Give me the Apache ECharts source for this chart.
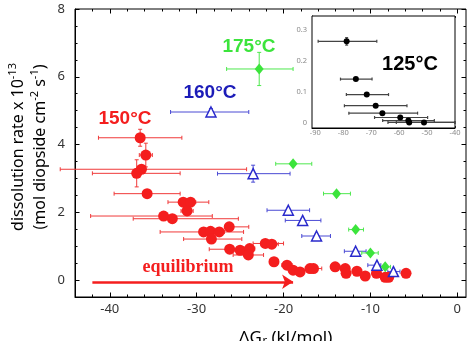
<!DOCTYPE html>
<html><head><meta charset="utf-8">
<script src="https://cdn.jsdelivr.net/npm/echarts@6/dist/echarts.min.js"></script>
<style>html,body{margin:0;padding:0;background:#fff}#c{width:472px;height:341px}</style>
</head><body><div id="c"></div>
<script>
// ---------- DATA ----------
// 150 °C (red circles): dG, rate, dG error low/high, rate half-error
const t150_dG    = [-36.5,-35.85,-36.35,-36.9,-35.7,-31.55,-30.7,-31.1,-33.8,-32.8,-29.2,-28.4,-27.4,-26.25,-28.3,-26.2,-25.0,-23.9,-24.05,-22.1,-21.35,-21.1,-19.6,-18.9,-18.1,-16.95,-16.55,-14.06,-12.9,-12.8,-11.55,-10.6,-9.3,-8.3,-7.9,-5.9];
const t150_rate  = [4.20,3.69,3.27,3.15,2.55,2.30,2.30,2.04,1.89,1.81,1.42,1.44,1.42,1.57,1.21,0.91,0.88,0.93,0.74,1.08,1.06,0.54,0.44,0.29,0.24,0.34,0.34,0.39,0.34,0.20,0.26,0.12,0.20,0.08,0.08,0.20];
const t150_dGlo  = [-41.3,-36.6,-45.7,-42.0,-39.5,-33.3,-31.3,-31.8,-42.2,-37.3,-34.2,-29.0,-28.0,-26.5,-31.5,-28.55,-25.6,-24.5,-25.8,-23.5,-22.0,-21.6,-20.2,-19.4,-18.6,-17.5,-17.1,-14.6,-13.4,-13.3,-12.1,-11.1,-9.8,-8.8,-8.4,-6.4];
const t150_dGhi  = [-31.7,-35.1,-24.25,-31.9,-31.9,-28.6,-30.1,-30.4,-28.2,-25.2,-24.6,-27.8,-26.8,-24.0,-24.8,-23.4,-24.4,-23.3,-22.3,-20.0,-20.6,-20.6,-19.0,-18.4,-17.6,-16.4,-15.6,-13.5,-12.4,-12.3,-11.0,-10.1,-8.8,-7.8,-7.4,-5.4];
const t150_rateErr=[0.25,0.35,0,0.40,0,0,0,0,0,0,0,0,0,0,0,0,0,0,0,0,0,0,0,0,0,0,0,0,0,0,0,0,0,0,0,0];
// 160 °C (blue open triangles)
const t160_dG    = [-28.35,-23.5,-19.45,-17.8,-16.2,-11.7,-9.25,-7.35];
const t160_rate  = [4.96,3.14,2.06,1.76,1.30,0.85,0.44,0.25];
const t160_dGlo  = [-33.0,-27.6,-21.9,-19.8,-17.9,-13.0,-10.3,-8.0];
const t160_dGhi  = [-24.0,-19.25,-17.0,-15.7,-14.6,-10.5,-8.8,-6.6];
const t160_rateErr=[0.10,0.25,0.06,0.05,0.05,0.05,0.05,0.05];
// 175 °C (green diamonds)
const t175_dG    = [-22.8,-18.9,-13.9,-11.7,-10.0,-8.3];
const t175_rate  = [6.23,3.43,2.55,1.49,0.80,0.39];
const t175_dGlo  = [-26.55,-20.9,-15.4,-12.5,-11.0,-9.0];
const t175_dGhi  = [-18.9,-16.75,-12.3,-10.8,-9.1,-7.7];
const t175_rateErr=[0.49,0,0,0,0,0];
// 125 °C (inset, black)
const t125_dG    = [-78.8,-75.5,-71.6,-68.4,-66.0,-59.6,-56.7,-56.4,-51.1];
const t125_rate  = [0.264,0.142,0.092,0.056,0.032,0.018,0.008,0.002,0.002];
const t125_dGlo  = [-89.0,-81.0,-78.9,-79.6,-78.0,-68.8,-65.9,-64.0,-61.0];
const t125_dGhi  = [-68.0,-69.7,-63.8,-57.2,-53.4,-49.8,-47.4,-40.0,-40.0];
const t125_rateErr=[0.012,0,0,0,0,0,0,0,0];
// equilibrium arrow (start, end)
const equilibriumArrow = [[-42.0,-0.05],[-18.9,-0.05]];
// tick labels
const xTickLabels = [-40,-30,-20,-10,0];
const yTickLabels = [0,2,4,6,8];
const insetXTickLabels = [-90,-80,-70,-60,-50,-40];
const insetYTickLabels = [0,0.1,0.2,0.3];

// ---------- HELPERS ----------
function steps(a,b,s){const o=[];for(let v=a;v<=b+1e-9;v+=s)o.push(+v.toFixed(4));return o;}
function rows(x,y,lo,hi,ye){return x.map((v,i)=>[v,y[i],lo[i],hi[i],ye[i]]);}
function errRender(color,cap,lw){
  return function(params,api){
    const x=api.value(0),y=api.value(1),xl=api.value(2),xh=api.value(3),ye=api.value(4);
    const p=api.coord([x,y]);const st={stroke:color,lineWidth:lw};const ch=[];
    if(xh>xl){const a=api.coord([xl,y]),b=api.coord([xh,y]);
      ch.push({type:'line',shape:{x1:a[0],y1:p[1],x2:b[0],y2:p[1]},style:st});
      ch.push({type:'line',shape:{x1:a[0],y1:p[1]-cap,x2:a[0],y2:p[1]+cap},style:st});
      ch.push({type:'line',shape:{x1:b[0],y1:p[1]-cap,x2:b[0],y2:p[1]+cap},style:st});}
    if(ye>0){const t=api.coord([x,y+ye]),d=api.coord([x,y-ye]);
      ch.push({type:'line',shape:{x1:p[0],y1:t[1],x2:p[0],y2:d[1]},style:st});
      ch.push({type:'line',shape:{x1:p[0]-cap,y1:t[1],x2:p[0]+cap,y2:t[1]},style:st});
      ch.push({type:'line',shape:{x1:p[0]-cap,y1:d[1],x2:p[0]+cap,y2:d[1]},style:st});}
    return {type:'group',children:ch};
  };
}
const RED='#f41e1e', BLUE='#2a2acc', GREEN='#3ce43c';
const FONT='"Noto Sans", "DejaVu Sans", sans-serif';
const xMinor=steps(-44,0,2), yMinor=steps(-0.5,8,0.5);
const ixMinor=steps(-91,-40,1), iyMinor=steps(-0.01,0.34,0.01);
const lblMain={fontFamily:FONT,fontSize:13,color:'#333'};
function tick(len,vals,color){return {show:true,inside:true,length:len,customValues:vals,lineStyle:{color:color||'#000',width:1}};}
function xa(grid,pos,min,max,t,lbl,line){return {type:'value',gridIndex:grid,position:pos,min:min,max:max,
  axisLine:{show:!!line,onZero:false,lineStyle:{color:'#000'}},axisTick:t,splitLine:{show:false},
  axisLabel:lbl||{show:false}};}

const option={
  animation:false,
  grid:[{left:75,right:6,top:9,bottom:44,show:true,borderColor:'#000',borderWidth:1,z:0},
        {left:312,top:16,width:143,height:112,show:true,borderColor:'#000',borderWidth:1,backgroundColor:'#fff',z:1}],
  xAxis:[
    xa(0,'bottom',-44,1,tick(4.5,xTickLabels),Object.assign({customValues:xTickLabels,margin:6},lblMain),true),
    xa(0,'bottom',-44,1,tick(2.5,xMinor)),
    xa(0,'top',-44,1,tick(4.5,xTickLabels)),
    xa(0,'top',-44,1,tick(2.5,xMinor)),
    xa(1,'bottom',-91.2,-40,tick(2,ixMinor,'#333'),{customValues:insetXTickLabels,margin:1,fontFamily:FONT,fontSize:7.5,color:'#8a8a8a'},true),
    xa(1,'top',-91.2,-40,tick(2,ixMinor,'#333'))
  ],
  yAxis:[
    xa(0,'left',-0.5,8,tick(4.5,yTickLabels),Object.assign({customValues:yTickLabels,margin:10},lblMain),true),
    xa(0,'left',-0.5,8,tick(2.5,yMinor)),
    xa(0,'right',-0.5,8,tick(4.5,yTickLabels)),
    xa(0,'right',-0.5,8,tick(2.5,yMinor)),
    xa(1,'left',-0.016,0.346,tick(2,iyMinor,'#333'),{customValues:insetYTickLabels,margin:5,fontFamily:FONT,fontSize:7.5,color:'#8a8a8a'},true),
    xa(1,'right',-0.016,0.346,tick(2,iyMinor,'#333'))
  ],
  series:[
    {type:'custom',xAxisIndex:0,yAxisIndex:0,renderItem:errRender('#f03a3a',2,1),data:rows(t150_dG,t150_rate,t150_dGlo,t150_dGhi,t150_rateErr),encode:{x:0,y:1},z:2},
    {type:'custom',xAxisIndex:0,yAxisIndex:0,renderItem:errRender('#4a4ad4',2,1),data:rows(t160_dG,t160_rate,t160_dGlo,t160_dGhi,t160_rateErr),encode:{x:0,y:1},z:2},
    {type:'custom',xAxisIndex:0,yAxisIndex:0,renderItem:errRender('#4ee84e',2,1),data:rows(t175_dG,t175_rate,t175_dGlo,t175_dGhi,t175_rateErr),encode:{x:0,y:1},z:2},
    {type:'lines',coordinateSystem:'cartesian2d',xAxisIndex:0,yAxisIndex:0,symbol:['none','arrow'],symbolSize:[0,11],
      lineStyle:{color:RED,width:2.5,opacity:1},data:[{coords:equilibriumArrow}],z:3},
    {type:'scatter',xAxisIndex:0,yAxisIndex:0,symbol:'circle',symbolSize:11,itemStyle:{color:RED,opacity:1},data:t150_dG.map((v,i)=>[v,t150_rate[i]]),z:4},
    {type:'scatter',xAxisIndex:0,yAxisIndex:0,symbol:'triangle',symbolSize:10,itemStyle:{color:'#fff',borderColor:BLUE,borderWidth:1.5,opacity:1},data:t160_dG.map((v,i)=>[v,t160_rate[i]]),z:5},
    {type:'scatter',xAxisIndex:0,yAxisIndex:0,symbol:'diamond',symbolSize:[9,11],itemStyle:{color:GREEN,opacity:1},data:t175_dG.map((v,i)=>[v,t175_rate[i]]),z:5},
    {type:'custom',xAxisIndex:4,yAxisIndex:4,renderItem:errRender('#444',1.5,1.2),data:rows(t125_dG,t125_rate,t125_dGlo,t125_dGhi,t125_rateErr),encode:{x:0,y:1},z:6},
    {type:'scatter',xAxisIndex:4,yAxisIndex:4,symbol:'circle',symbolSize:6,itemStyle:{color:'#000',opacity:1},data:t125_dG.map((v,i)=>[v,t125_rate[i]]),z:7}
  ],
  graphic:[
    {type:'text',x:125,y:119,z:10,style:{text:'150°C',fill:RED,fontFamily:'"Liberation Sans", Arial, sans-serif',fontWeight:'bold',fontSize:19,align:'center',verticalAlign:'middle'}},
    {type:'text',x:210,y:93,z:10,style:{text:'160°C',fill:'#1c1cb8',fontFamily:'"Liberation Sans", Arial, sans-serif',fontWeight:'bold',fontSize:19,align:'center',verticalAlign:'middle'}},
    {type:'text',x:249,y:47,z:10,style:{text:'175°C',fill:GREEN,fontFamily:'"Liberation Sans", Arial, sans-serif',fontWeight:'bold',fontSize:19,align:'center',verticalAlign:'middle'}},
    {type:'text',x:410,y:64,z:10,style:{text:'125°C',fill:'#000',fontFamily:'"Liberation Sans", Arial, sans-serif',fontWeight:'bold',fontSize:20,align:'center',verticalAlign:'middle'}},
    {type:'text',x:188,y:267,z:10,style:{text:'equilibrium',fill:RED,fontFamily:'"Liberation Serif", "DejaVu Serif", serif',fontWeight:'bold',fontSize:18,align:'center',verticalAlign:'middle'}},
    {type:'text',x:18,y:147,rotation:Math.PI/2,z:10,style:{text:'{b|dissolution rate x 10}{s|-13}',align:'center',verticalAlign:'middle',
      rich:{b:{fontFamily:FONT,fontSize:16,lineHeight:22,fill:'#000',color:'#000'},s:{fontFamily:FONT,fontSize:11,lineHeight:10,verticalAlign:'top',fill:'#000',color:'#000'}}}},
    {type:'text',x:40,y:147,rotation:Math.PI/2,z:10,style:{text:'{b|(mol diopside cm}{s|-2}{b| s}{s|-1}{b|)}',align:'center',verticalAlign:'middle',
      rich:{b:{fontFamily:FONT,fontSize:16,lineHeight:22,fill:'#000',color:'#000'},s:{fontFamily:FONT,fontSize:11,lineHeight:10,verticalAlign:'top',fill:'#000',color:'#000'}}}},
    {type:'text',x:262,y:338,z:10,style:{text:'ΔG',fill:'#000',fontFamily:FONT,fontSize:17,align:'right',verticalAlign:'middle'}},
    {type:'text',x:262.5,y:341,z:10,style:{text:'r',fill:'#000',fontFamily:FONT,fontSize:11,align:'left',verticalAlign:'middle'}},
    {type:'text',x:267,y:338,z:10,style:{text:' (kJ/mol)',fill:'#000',fontFamily:FONT,fontSize:17,align:'left',verticalAlign:'middle'}}
  ]
};
const chart=echarts.init(document.getElementById('c'),null,{width:472,height:341});
chart.setOption(option);
</script></body></html>
